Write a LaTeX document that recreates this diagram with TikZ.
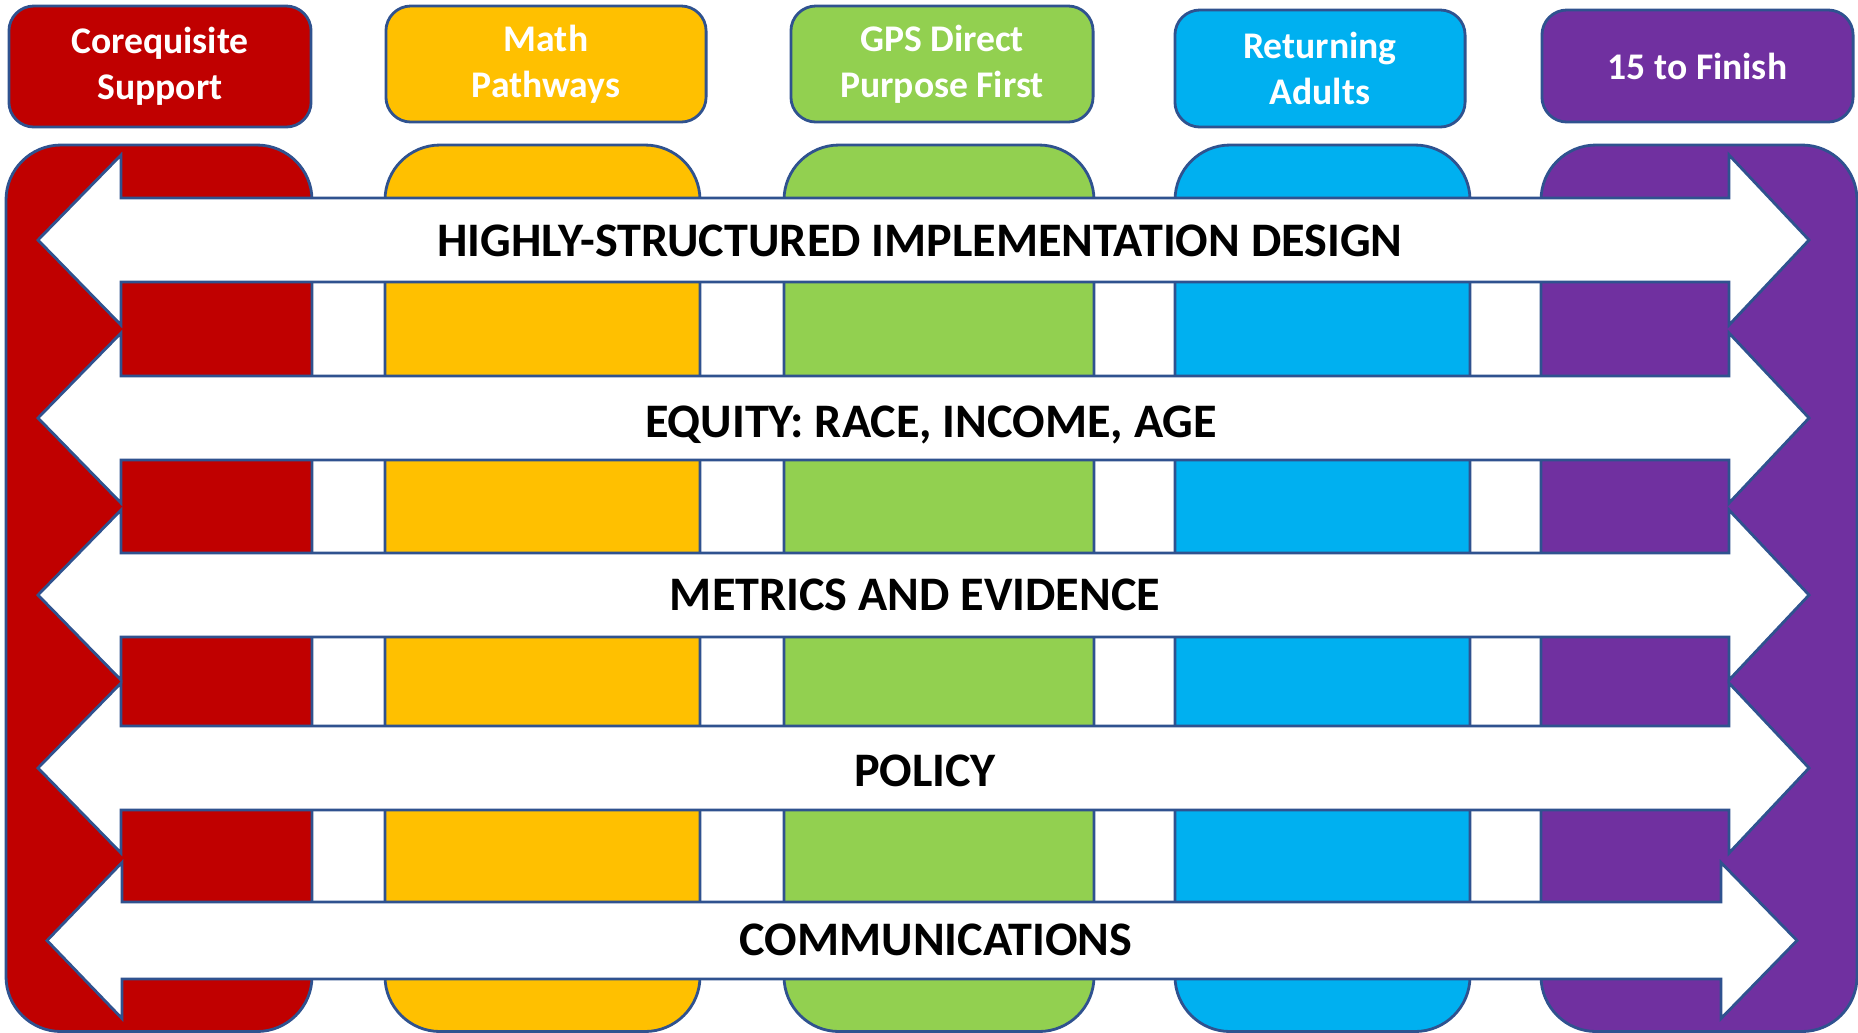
\documentclass[tikz,border=0pt]{standalone}
\usepackage{fontspec}
\setmainfont{Carlito}
\usepackage{tikz}

\definecolor{cRed}{HTML}{C00000}
\definecolor{cYellow}{HTML}{FFC000}
\definecolor{cGreen}{HTML}{92D050}
\definecolor{cBlue}{HTML}{00B0F0}
\definecolor{cPurple}{HTML}{7030A0}
\definecolor{edge}{HTML}{2F528F}

\begin{document}
\begin{tikzpicture}[
    x=0.01cm, y=-0.01cm,
    tag/.style={rectangle, draw=edge, line width=0.8pt, rounded corners=0.25cm, fill=#1, text=white, align=center, inner sep=0pt, font=\fontsize{10.7}{13.1}\selectfont\bfseries},
    tag/.default=cRed,
    column/.style={draw=edge, line width=0.8pt, rounded corners=0.55cm, fill=#1},
    band/.style={draw=edge, line width=0.8pt, fill=white, line join=miter},
    bandtext/.style={font=\fontsize{13.7}{15}\selectfont\bfseries, text=black, inner sep=0pt, text height=8.8pt, text depth=0pt}
]
    \useasboundingbox (0,0) rectangle (1858,1032);

    % Columns behind the arrows
    \foreach \c/\xa/\xb in {cRed/6/312, cYellow/385/700, cGreen/784/1094, cBlue/1175/1470, cPurple/1541/1857} {
        \draw[column=\c] (\xa,145) rectangle (\xb,1031.5);
    }

    % Program tags on top
    \node[tag=cRed, minimum width=3.02cm, minimum height=1.21cm] (coreq) at (160,66.5) {Corequisite\\Support};
    \node[tag=cYellow, minimum width=3.20cm, minimum height=1.16cm] (math) at (546,64) {Math\\Pathways};
    \node[tag=cGreen, minimum width=3.02cm, minimum height=1.16cm] (gps) at (942,64) {GPS Direct\\Purpose First};
    \node[tag=cBlue, minimum width=2.90cm, minimum height=1.17cm] (adults) at (1320,68.5) {Returning\\Adults};
    \node[tag=cPurple, minimum width=3.11cm, minimum height=1.12cm] (finish) at (1697.5,66) {15 to Finish};

    % Double arrows across the columns
    \foreach \n/\y/\tx/\ty/\t in {design/240/920/241/{HIGHLY-STRUCTURED IMPLEMENTATION DESIGN}, equity/418/931/422/{EQUITY: RACE, INCOME, AGE}, metrics/595/915/595/{METRICS AND EVIDENCE}, policy/768/925/771/{POLICY}} {
        \draw[band] (38,\y) -- (121,\y-85) -- (121,\y-42) -- (1729,\y-42) -- (1729,\y-85) -- (1809,\y)
            -- (1729,\y+85) -- (1729,\y+42) -- (121,\y+42) -- (121,\y+85) -- cycle;
        \node[bandtext] (\n) at (\tx,\ty) {\t};
    }
    \draw[band] (47,940.5) -- (122,862.5) -- (122,902) -- (1721,902) -- (1721,862.5) -- (1797,940.5)
        -- (1721,1018.5) -- (1721,979) -- (122,979) -- (122,1018.5) -- cycle;
    \node[bandtext] (comm) at (936,939.5) {COMMUNICATIONS};

\end{tikzpicture}
\end{document}
